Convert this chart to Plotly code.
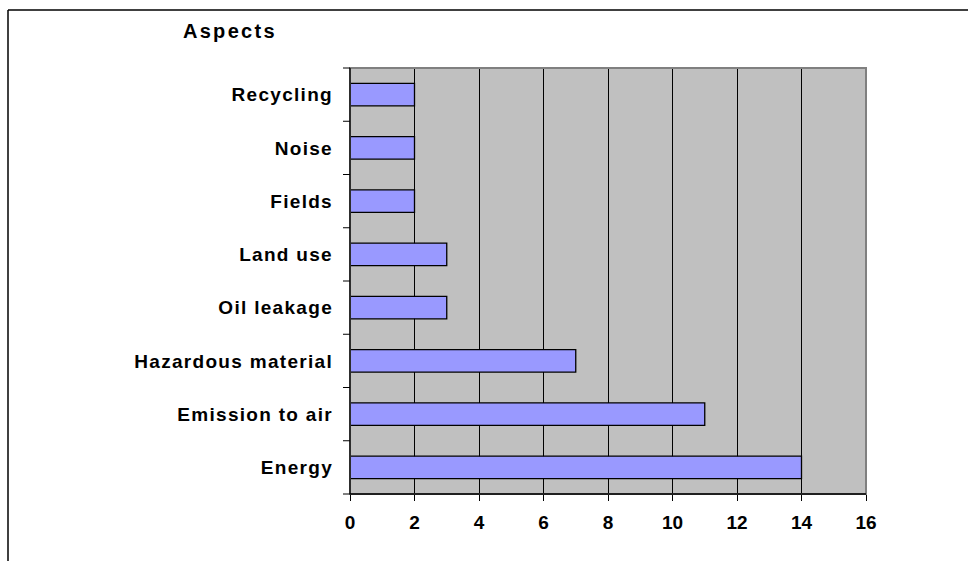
import plotly.graph_objects as go

# Environmental aspects and how often each was named
aspects = ["Energy", "Emission to air", "Hazardous material", "Oil leakage",
           "Land use", "Fields", "Noise", "Recycling"]
counts = [14, 11, 7, 3, 3, 2, 2, 2]
x_ticks = [0, 2, 4, 6, 8, 10, 12, 14, 16]

W, H = 968, 561
# plot area in pixels
L, R, T, B = 350, 866, 68, 494

font_family = "Liberation Sans, Arial, sans-serif"

fig = go.Figure(go.Bar(
    x=counts,
    y=aspects,
    orientation="h",
    marker=dict(color="#9999FF", line=dict(color="#000000", width=1.3)),
    width=0.42,
    hoverinfo="x+y",
))


def px_to_paper_x(px):
    return (px - L) / (R - L)


def px_to_paper_y(py):
    return (B - py) / (B - T)


shapes = [
    # gray border around the plot area
    dict(type="rect", xref="paper", yref="paper", x0=0, y0=0, x1=1, y1=1,
         line=dict(color="#808080", width=2), layer="above"),
    # black left and bottom axis lines
    dict(type="line", xref="paper", yref="paper", x0=0, y0=0, x1=0, y1=1,
         line=dict(color="#000000", width=1.3), layer="above"),
    dict(type="line", xref="paper", yref="paper", x0=0, y0=0, x1=1, y1=0,
         line=dict(color="#000000", width=1.3), layer="above"),
    # outer chart frame (top and left edges)
    dict(type="line", xref="paper", yref="paper",
         x0=px_to_paper_x(8), y0=px_to_paper_y(10),
         x1=px_to_paper_x(W + 5), y1=px_to_paper_y(10),
         line=dict(color="#000000", width=1.3)),
    dict(type="line", xref="paper", yref="paper",
         x0=px_to_paper_x(8), y0=px_to_paper_y(10),
         x1=px_to_paper_x(8), y1=px_to_paper_y(H + 5),
         line=dict(color="#000000", width=1.5)),
]

# small tick marks on the category axis, between categories
for i in range(len(aspects) + 1):
    yp = i / len(aspects)
    shapes.append(dict(type="line", xref="paper", yref="paper",
                       x0=px_to_paper_x(L - 7), x1=0, y0=yp, y1=yp,
                       line=dict(color="#000000", width=1)))

fig.update_layout(
    width=W, height=H,
    margin=dict(l=L, r=W - R, t=T, b=H - B, pad=0),
    paper_bgcolor="#FFFFFF",
    plot_bgcolor="#C0C0C0",
    showlegend=False,
    bargap=0.58,
    font=dict(family=font_family, size=19, color="#000000"),
    annotations=[dict(
        text="<b>Aspects</b>", xref="paper", yref="paper",
        x=px_to_paper_x(230), y=px_to_paper_y(31),
        xanchor="center", yanchor="middle", showarrow=False,
        font=dict(family=font_family, size=20, color="#000000"),
    )],
    shapes=shapes,
)

fig.update_xaxes(
    range=[0, 16],
    tickvals=x_ticks,
    ticktext=[f"<b>{v}</b>" for v in x_ticks],
    showgrid=True, gridcolor="#000000", gridwidth=1,
    zeroline=False,
    showline=False,
    ticks="outside", ticklen=6, tickcolor="#000000", tickwidth=1,
    tickfont=dict(family=font_family, size=19, color="#000000"),
    ticklabelstandoff=5,
    fixedrange=True,
)

fig.update_yaxes(
    categoryorder="array",
    categoryarray=aspects,
    tickvals=aspects,
    ticktext=[f"<b>{a}</b>" for a in aspects],
    range=[-0.5, len(aspects) - 0.5],
    showgrid=False,
    zeroline=False,
    showline=False,
    ticks="",
    tickfont=dict(family=font_family, size=19, color="#000000"),
    ticklabelstandoff=16,
    fixedrange=True,
)

# slightly loose letter spacing for the category labels and the title
spacing_css = (
    "var s=document.createElement('style');"
    "s.textContent='.ytick text{letter-spacing:1.3px}"
    " .annotation-text{letter-spacing:2.3px}';"
    "document.head.appendChild(s);"
)

fig.write_html("out.html", post_script=spacing_css)
